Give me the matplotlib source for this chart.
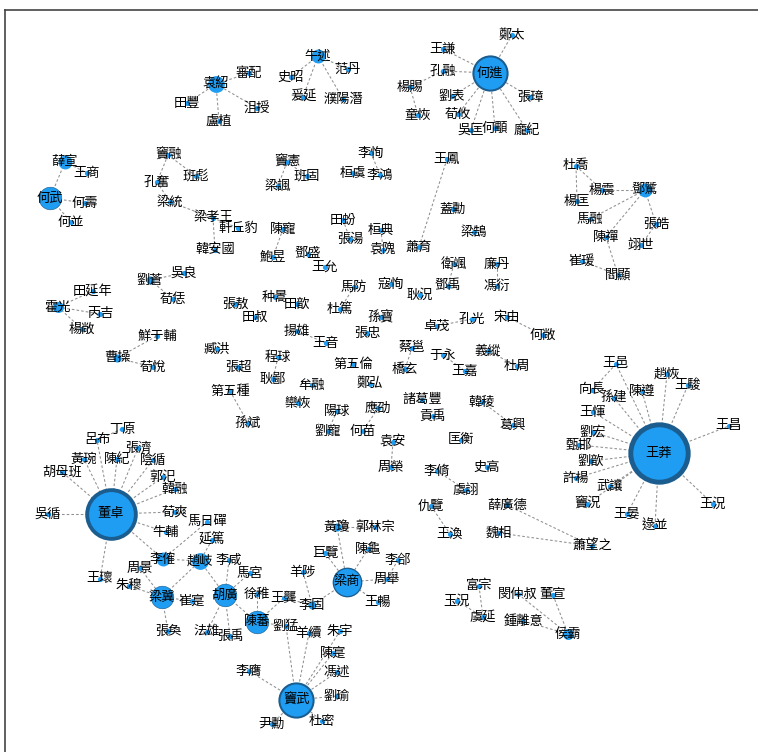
import matplotlib
matplotlib.use("Agg")
import matplotlib.pyplot as plt

plt.rcParams['font.family'] = ['Noto Sans CJK TC', 'DejaVu Sans']

# 人物 (名字, x, y) -- 位置取自原圖的佈局
names = ["薛宣", "王商", "何武", "何壽", "何並",
         "袁紹", "田豐", "審配", "沮授", "盧植",
         "牛述", "史昭", "范丹", "爰延", "濮陽潛",
         "何進", "鄭太", "王謙", "孔融", "楊賜", "童恢", "劉表", "荀攸", "吳匡", "何顒", "張璋", "龐紀",
         "鄧騭", "杜喬", "楊震", "楊匡", "馬融", "陳禪", "張皓", "翊世", "崔瑗", "閻顯",
         "竇融", "班彪", "孔奮", "梁統", "梁孝王", "軒丘豹", "韓安國",
         "竇憲", "班固", "梁諷", "李恂", "桓虞", "李鴻",
         "田蚡", "張湯", "桓典", "袁隗", "陳寵", "鮑昱", "鄧盛", "王允",
         "王鳳", "蕭育", "蓋勳", "梁鵠", "衛颯", "鄧禹", "廉丹", "馮衍", "寇恂", "耿況",
         "劉蒼", "吳良", "荀恁", "霍光", "田延年", "丙吉", "楊敞", "曹操", "鮮于輔", "荀悅",
         "張敖", "田叔", "种暠", "田歆", "馬防", "杜篤", "孫寶", "揚雄", "王音", "張忠",
         "臧洪", "張超", "程球", "耿鄙", "第五倫", "牟融", "鄭弘", "第五種", "孫斌", "欒恢",
         "陽球", "劉寵", "應劭", "何苗",
         "卓茂", "孔光", "宋由", "何敞", "蔡邕", "橋玄", "于永", "王嘉", "義縱", "杜周",
         "諸葛豐", "貢禹", "韓稜", "葛興", "匡衡", "袁安", "周榮", "史高", "李脩", "虞詡",
         "仇覽", "王渙", "薛廣德", "魏相", "蕭望之",
         "富宗", "玉況", "虞延", "閔仲叔", "董宣", "鍾離意", "侯霸",
         "王莽", "王邑", "趙恢", "王駿", "陳遵", "向長", "孫建", "王惲", "劉宏", "甄邯",
         "劉歆", "許楊", "武讓", "王昌", "竇況", "王晏", "逯並", "王況",
         "董卓", "丁原", "呂布", "張濟", "黃琬", "陳紀", "陰循", "胡母班", "郭汜", "韓融",
         "荀爽", "吳循", "牛輔", "馬日磾", "李傕", "周景", "王瓌", "朱穆", "梁冀", "崔寔",
         "張奐", "趙岐", "延篤", "李咸", "馬宮", "胡廣", "徐稚", "王龔", "陳蕃", "劉猛",
         "法雄", "張禹",
         "羊陟", "李固", "梁商", "黃瓊", "郭林宗", "巨覽", "陳龜", "周舉", "李郃", "王暢",
         "竇武", "羊續", "朱宇", "陳寔", "馮述", "劉瑜", "杜密", "尹勳", "李膺"]

xs = [65, 87, 50, 85, 71,
      216, 187, 249, 257, 219,
      318, 291, 348, 303, 343,
      490, 512, 443, 443, 410, 418, 452, 458, 471, 495, 530, 527,
      645, 576, 602, 577, 590, 606, 656, 641, 582, 618,
      168, 196, 157, 170, 213, 238, 215,
      287, 307, 278, 371, 353, 380,
      343, 350, 381, 383, 283, 273, 308, 325,
      447, 419, 453, 474, 454, 448, 497, 497, 391, 420,
      150, 184, 173, 58, 93, 100, 82, 117, 157, 153,
      235, 255, 275, 297, 354, 340, 381, 297, 326, 367,
      217, 238, 278, 273, 353, 312, 370, 230, 248, 298,
      337, 328, 378, 363,
      437, 472, 507, 543, 412, 405, 443, 465, 488, 517,
      422, 433, 482, 513, 461, 393, 391, 487, 437, 466,
      431, 450, 507, 499, 592,
      479, 457, 483, 518, 553, 523, 568,
      659, 616, 667, 688, 642, 592, 614, 593, 593, 579,
      591, 576, 610, 729, 587, 627, 655, 713,
      111, 122, 97, 138, 84, 117, 153, 62, 163, 175,
      175, 48, 166, 207, 163, 140, 100, 129, 162, 192,
      168, 200, 212, 229, 250, 225, 257, 284, 257, 286,
      207, 230,
      303, 312, 347, 337, 375, 325, 368, 387, 398, 378,
      296, 309, 340, 333, 337, 337, 322, 272, 249]

ys = [162, 173, 198, 203, 222,
      84, 103, 73, 108, 121,
      56, 77, 69, 97, 99,
      73, 35, 49, 71, 87, 115, 96, 114, 130, 128, 97, 130,
      190, 166, 190, 201, 219, 237, 224, 245, 261, 275,
      155, 176, 182, 202, 218, 228, 250,
      162, 176, 186, 153, 173, 175,
      220, 239, 230, 250, 229, 257, 254, 267,
      159, 247, 209, 232, 264, 286, 264, 286, 284, 295,
      280, 273, 299, 307, 291, 314, 329, 358, 336, 367,
      304, 317, 297, 304, 287, 309, 317, 331, 343, 333,
      349, 367, 357, 379, 364, 385, 384, 391, 423, 403,
      411, 431, 408, 431,
      326, 319, 317, 335, 348, 369, 355, 371, 351, 366,
      400, 416, 402, 425, 440, 442, 467, 467, 471, 490,
      506, 534, 505, 533, 546,
      586, 601, 617, 594, 595, 621, 634,
      453, 364, 374, 385, 391, 390, 398, 412, 432, 445,
      461, 478, 486, 426, 504, 514, 526, 504,
      514, 429, 440, 448, 459, 459, 460, 472, 477, 489,
      512, 514, 532, 522, 559, 568, 579, 586, 597, 601,
      631, 561, 540, 560, 573, 595, 594, 598, 622, 626,
      632, 636,
      572, 605, 582, 527, 527, 553, 549, 579, 560, 602,
      700, 633, 631, 653, 672, 696, 721, 724, 671]

# 重要人物的權重 (其餘為 1)
weight = {"王莽": 19, "董卓": 16, "何進": 11, "竇武": 11, "梁商": 9,
          "胡廣": 7, "陳蕃": 7, "梁冀": 7, "何武": 7, "趙岐": 5, "袁紹": 5,
          "薛宣": 4, "鄧騭": 4, "牛述": 4, "李傕": 4, "霍光": 3, "侯霸": 3,
          "劉蒼": 2, "曹操": 2, "李固": 2, "黃瓊": 2}

edges = [("薛宣", "何武"), ("薛宣", "王商"), ("何武", "何壽"), ("何武", "何並"),
         ("袁紹", "田豐"), ("袁紹", "審配"), ("袁紹", "沮授"), ("袁紹", "盧植"),
         ("牛述", "史昭"), ("牛述", "范丹"), ("牛述", "爰延"), ("牛述", "濮陽潛"),
         ("何進", "鄭太"), ("何進", "王謙"), ("何進", "孔融"), ("孔融", "楊賜"), ("楊賜", "童恢"),
         ("何進", "劉表"), ("何進", "荀攸"), ("何進", "吳匡"), ("何進", "何顒"), ("何進", "張璋"),
         ("何進", "龐紀"),
         ("杜喬", "楊震"), ("杜喬", "楊匡"), ("楊震", "鄧騭"), ("鄧騭", "馬融"), ("鄧騭", "張皓"),
         ("鄧騭", "陳禪"), ("陳禪", "閻顯"), ("崔瑗", "閻顯"), ("張皓", "翊世"),
         ("竇融", "班彪"), ("竇融", "孔奮"), ("孔奮", "梁統"), ("梁統", "梁孝王"),
         ("梁孝王", "韓安國"), ("梁孝王", "軒丘豹"),
         ("竇憲", "班固"), ("竇憲", "梁諷"), ("李恂", "李鴻"),
         ("田蚡", "張湯"), ("桓典", "袁隗"), ("陳寵", "鮑昱"),
         ("王鳳", "蕭育"), ("衛颯", "鄧禹"), ("廉丹", "馮衍"),
         ("劉蒼", "吳良"), ("劉蒼", "荀恁"), ("霍光", "田延年"), ("霍光", "丙吉"), ("霍光", "楊敞"),
         ("曹操", "鮮于輔"), ("曹操", "荀悅"),
         ("馬防", "杜篤"), ("揚雄", "王音"), ("程球", "耿鄙"), ("第五種", "孫斌"),
         ("陽球", "劉寵"), ("應劭", "何苗"),
         ("卓茂", "孔光"), ("宋由", "何敞"), ("蔡邕", "橋玄"), ("于永", "王嘉"), ("義縱", "杜周"),
         ("韓稜", "葛興"), ("袁安", "周榮"), ("李脩", "虞詡"), ("仇覽", "王渙"),
         ("薛廣德", "蕭望之"), ("魏相", "蕭望之"),
         ("富宗", "虞延"), ("玉況", "虞延"), ("閔仲叔", "侯霸"), ("董宣", "侯霸"), ("鍾離意", "侯霸"),
         ("王莽", "王邑"), ("王莽", "趙恢"), ("王莽", "王駿"), ("王莽", "陳遵"), ("王莽", "孫建"),
         ("王莽", "王惲"), ("王莽", "劉宏"), ("王莽", "甄邯"), ("王莽", "劉歆"), ("王莽", "許楊"),
         ("王莽", "武讓"), ("王莽", "王昌"), ("王莽", "竇況"), ("王莽", "王晏"), ("王莽", "逯並"),
         ("王莽", "王況"), ("向長", "王邑"),
         ("董卓", "呂布"), ("董卓", "張濟"), ("董卓", "黃琬"), ("董卓", "陳紀"), ("董卓", "陰循"),
         ("董卓", "胡母班"), ("董卓", "郭汜"), ("董卓", "韓融"), ("董卓", "荀爽"), ("董卓", "吳循"),
         ("董卓", "牛輔"), ("董卓", "李傕"), ("董卓", "王瓌"), ("丁原", "呂布"),
         ("馬日磾", "李傕"), ("李傕", "趙岐"), ("梁冀", "趙岐"), ("周景", "梁冀"), ("朱穆", "梁冀"),
         ("梁冀", "崔寔"), ("梁冀", "張奐"),
         ("延篤", "趙岐"), ("趙岐", "胡廣"), ("李咸", "胡廣"), ("馬宮", "胡廣"), ("胡廣", "陳蕃"),
         ("胡廣", "法雄"), ("胡廣", "張禹"), ("陳蕃", "徐稚"), ("陳蕃", "王龔"), ("陳蕃", "劉猛"),
         ("王龔", "李固"), ("羊陟", "李固"), ("李固", "梁商"),
         ("梁商", "黃瓊"), ("梁商", "巨覽"), ("梁商", "陳龜"), ("梁商", "周舉"), ("梁商", "王暢"),
         ("黃瓊", "郭林宗"), ("李郃", "周舉"),
         ("竇武", "劉猛"), ("竇武", "羊續"), ("竇武", "朱宇"), ("竇武", "陳寔"), ("竇武", "馮述"),
         ("竇武", "劉瑜"), ("竇武", "杜密"), ("竇武", "尹勳"), ("竇武", "李膺")]

pos = {n: (x, y) for n, x, y in zip(names, xs, ys)}

W, H, dpi = 758, 752, 100
fig = plt.figure(figsize=(W / dpi, H / dpi), dpi=dpi)
# 框線: 左 5px, 上 10px, 右與下超出圖外
ax = fig.add_axes([5 / W, -0.02, 1.0, 1 - 10 / H + 0.02])
ax.set_xlim(5, 5 + W * 1.0)
ax.set_ylim(10 + H * (1 - 10 / H + 0.02), 10)
ax.set_xticks([])
ax.set_yticks([])
for s in ax.spines.values():
    s.set_color("#444444")
    s.set_linewidth(1.2)

for a, b in edges:
    (x1, y1), (x2, y2) = pos[a], pos[b]
    ax.plot([x1, x2], [y1, y2], color="#8f8f8f", lw=0.75,
            linestyle=(0, (2.5, 2)), zorder=1)

px2pt = 72 / dpi
for n in names:
    w = weight.get(n, 1)
    r = 2.6 + 1.45 * (w - 1)          # 半徑, px
    ring = max(0.0, (r - 9) * 0.25)   # 外圈, px
    ax.scatter([pos[n][0]], [pos[n][1]], s=(2 * r * px2pt) ** 2,
               color="#1e9df2", edgecolors="#1b5d8f",
               linewidths=ring * px2pt, zorder=2)
    ax.text(pos[n][0], pos[n][1], n, fontsize=9.5, ha="center", va="center",
            color="black", zorder=3)

fig.savefig("out.png", dpi=dpi)
